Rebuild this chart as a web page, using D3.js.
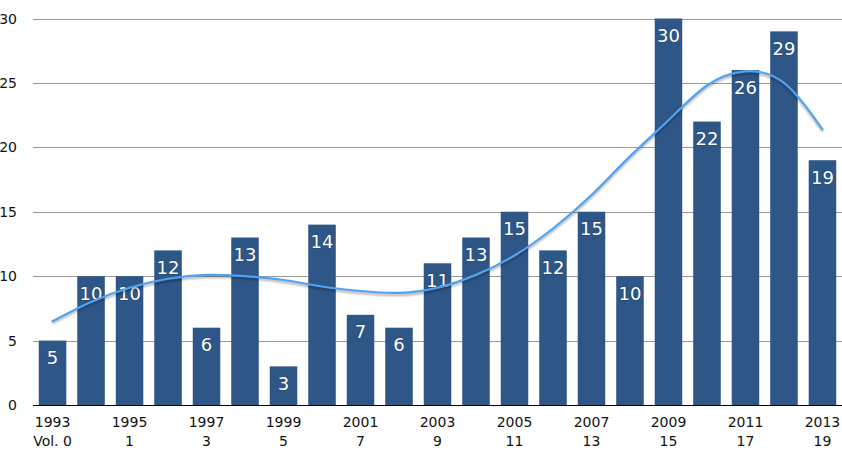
<!DOCTYPE html>
<html>
<head>
<meta charset="utf-8">
<script src="https://cdn.jsdelivr.net/npm/d3@7/dist/d3.min.js"></script>
<style>
  body { margin: 0; background: #fff; }
  text { font-family: "DejaVu Sans", sans-serif; }
</style>
</head>
<body>
<div id="chart"></div>
<script>
'use strict';

// data
var years = [1993, 1994, 1995, 1996, 1997, 1998, 1999, 2000, 2001, 2002, 2003,
             2004, 2005, 2006, 2007, 2008, 2009, 2010, 2011, 2012, 2013];
var counts = [5, 10, 10, 12, 6, 13, 3, 14, 7, 6, 11, 13, 15, 12, 15, 10, 30, 22, 26, 29, 19];
var trend = [6.5, 8.0, 9.1, 9.8, 10.1, 10.0, 9.7, 9.2, 8.85, 8.7, 9.1, 10.1, 11.6, 13.7,
             16.3, 19.3, 22.1, 24.8, 25.9, 25.0, 21.4];
var volumeLabels = {1993: 'Vol. 0', 1995: '1', 1997: '3', 1999: '5', 2001: '7', 2003: '9',
                    2005: '11', 2007: '13', 2009: '15', 2011: '17', 2013: '19'};
var yTicks = [0, 5, 10, 15, 20, 25, 30];

var width = 842, height = 451;
var margin = {top: 18.5, right: 0, bottom: 46, left: 33};

var svg = d3.select('#chart')
    .append('svg')
        .attr('width', width)
        .attr('height', height);

var x = d3.scaleBand()
    .domain(years)
    .range([margin.left, width - margin.right])
    .paddingInner(0.285)
    .paddingOuter(0.15);

var y = d3.scaleLinear()
    .domain([0, 30])
    .range([height - margin.bottom, margin.top]);

var defs = svg.append('defs');
defs.append('filter')
    .attr('id', 'shadow')
    .append('feGaussianBlur')
    .attr('stdDeviation', 1.2);

// gridlines
svg.append('g')
    .selectAll('line')
    .data(yTicks.filter(d => d > 0))
    .enter()
    .append('line')
    .attr('x1', margin.left)
    .attr('x2', width)
    .attr('y1', d => Math.round(y(d)) + 0.5)
    .attr('y2', d => Math.round(y(d)) + 0.5)
    .style('stroke', '#999')
    .style('stroke-width', 1);

// y tick labels
svg.append('g')
    .selectAll('text')
    .data(yTicks)
    .enter()
    .append('text')
    .attr('x', 17)
    .attr('y', d => y(d) + 5)
    .attr('text-anchor', 'end')
    .style('font-size', '14px')
    .style('fill', '#111')
    .text(d => d);

// bars
svg.append('g')
    .selectAll('rect')
    .data(counts)
    .enter()
    .append('rect')
    .attr('x', (d, i) => x(years[i]))
    .attr('y', d => y(d))
    .attr('width', x.bandwidth())
    .attr('height', d => y(0) - y(d))
    .style('fill', '#2e5686');

// bar values
svg.append('g')
    .selectAll('text')
    .data(counts)
    .enter()
    .append('text')
    .attr('x', (d, i) => x(years[i]) + x.bandwidth() / 2)
    .attr('y', d => y(d) + 23.5)
    .attr('text-anchor', 'middle')
    .style('font-size', '18px')
    .style('fill', '#fff')
    .style('paint-order', 'stroke')
    .style('stroke', 'rgba(0,0,0,0.25)')
    .style('stroke-width', 1)
    .text(d => d);

// x axis line
svg.append('line')
    .attr('x1', margin.left)
    .attr('x2', width)
    .attr('y1', y(0) + 0.5)
    .attr('y2', y(0) + 0.5)
    .style('stroke', '#000')
    .style('stroke-width', 1.2);

// x labels: year and volume
var xl = svg.append('g')
    .selectAll('g')
    .data(years.filter(d => volumeLabels[d] !== undefined))
    .enter()
    .append('g')
    .attr('transform', d => 'translate(' + (x(d) + x.bandwidth() / 2) + ',0)');

xl.append('text')
    .attr('y', 426.5)
    .attr('text-anchor', 'middle')
    .style('font-size', '14px')
    .style('fill', '#111')
    .text(d => d);

xl.append('text')
    .attr('y', 445.5)
    .attr('text-anchor', 'middle')
    .style('font-size', '14px')
    .style('fill', '#111')
    .text(d => volumeLabels[d]);

// trend line with a soft shadow
var line = d3.line()
    .x((d, i) => x(years[i]) + x.bandwidth() / 2)
    .y(d => y(d))
    .curve(d3.curveNatural);

svg.append('path')
    .datum(trend)
    .attr('d', line)
    .attr('transform', 'translate(0,2)')
    .attr('filter', 'url(#shadow)')
    .style('fill', 'none')
    .style('stroke', 'rgba(0,0,0,0.35)')
    .style('stroke-width', 2);

svg.append('path')
    .datum(trend)
    .attr('d', line)
    .style('fill', 'none')
    .style('stroke', '#4fa3f2')
    .style('stroke-width', 2.2)
    .style('stroke-linecap', 'round');
</script>
</body>
</html>
